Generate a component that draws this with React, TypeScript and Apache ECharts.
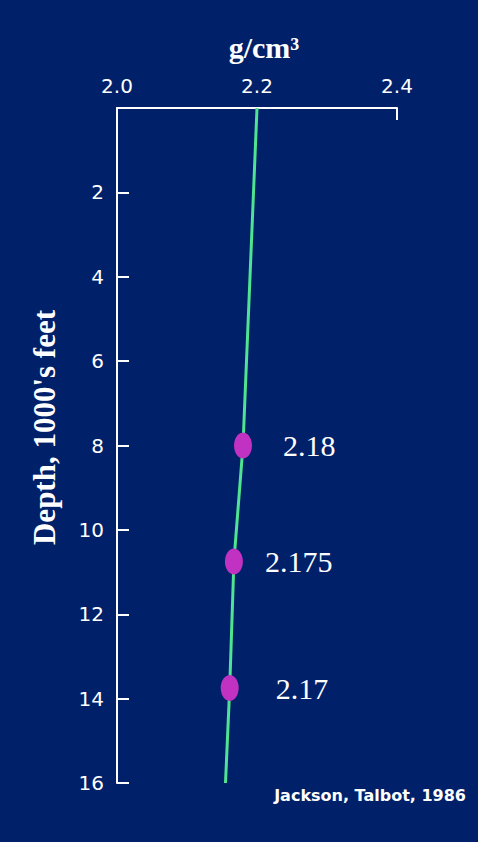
import React, { useEffect, useRef } from "react";
import * as echarts from "echarts";

const xTicks = [2.0, 2.2, 2.4];
const depthTicks = [0, 2, 4, 6, 8, 10, 12, 14, 16];
const lineDensity = [2.2, 2.18, 2.167, 2.161, 2.155];
const lineDepth = [0, 8, 10.75, 13.75, 16];
const pointDensity = [2.18, 2.167, 2.161];
const pointDepth = [8, 10.75, 13.75];
const pointLabels = ["2.18", "2.175", "2.17"];
const labelShift = [31, 22, 37];

const BG = "#00216a";

export default function App() {
  const ref = useRef<HTMLDivElement>(null);
  useEffect(() => {
    document.body.style.margin = "0";
    document.body.style.background = BG;
    const chart = echarts.init(ref.current!, null, { renderer: "svg" });
    chart.setOption({
      animation: false,
      backgroundColor: BG,
      grid: { left: 117, top: 108, right: 81, bottom: 59 },
      xAxis: {
        type: "value",
        position: "top",
        min: xTicks[0],
        max: xTicks[xTicks.length - 1],
        interval: 0.2,
        name: "g/cm³",
        nameLocation: "middle",
        nameGap: 46,
        nameTextStyle: {
          color: "#ffffff",
          fontFamily: "Liberation Serif",
          fontWeight: "bold",
          fontSize: 30,
          padding: [0, 0, 0, 14],
        },
        axisLine: { show: true, lineStyle: { color: "#ffffff", width: 2 } },
        axisTick: { show: true, inside: true, length: 12, lineStyle: { color: "#ffffff", width: 2 } },
        axisLabel: {
          color: "#ffffff",
          fontFamily: "DejaVu Sans",
          fontSize: 20,
          margin: 12,
          formatter: (v: number) => v.toFixed(1),
        },
        splitLine: { show: false },
      },
      yAxis: {
        type: "value",
        inverse: true,
        min: depthTicks[0],
        max: depthTicks[depthTicks.length - 1],
        interval: 2,
        name: "Depth, 1000's feet",
        nameLocation: "middle",
        nameRotate: 90,
        nameGap: 57,
        nameTextStyle: {
          color: "#ffffff",
          fontFamily: "Liberation Serif",
          fontWeight: "bold",
          fontSize: 31,
          padding: [0, 0, 0, 36],
        },
        axisLine: { show: true, lineStyle: { color: "#ffffff", width: 2 } },
        axisTick: { show: true, inside: true, length: 12, lineStyle: { color: "#ffffff", width: 2 } },
        axisLabel: {
          color: "#ffffff",
          fontFamily: "DejaVu Sans",
          fontSize: 20,
          margin: 13,
          formatter: (v: number) => (v === 0 ? "" : String(v)),
        },
        splitLine: { show: false },
      },
      graphic: [
        {
          type: "text",
          right: 12,
          top: 787,
          style: {
            text: "Jackson, Talbot, 1986",
            fill: "#ffffff",
            font: "bold 16px 'DejaVu Sans'",
          },
        },
      ],
      series: [
        {
          type: "line",
          data: lineDensity.map((d, i) => [d, lineDepth[i]]),
          showSymbol: false,
          lineStyle: { color: "#4fe392", width: 3 },
          z: 2,
        },
        {
          type: "scatter",
          data: pointDensity.map((d, i) => ({
            value: [d, pointDepth[i]],
            label: { offset: [labelShift[i], 0] },
          })),
          symbol: "circle",
          symbolSize: [18, 26],
          itemStyle: { color: "#c232c2", opacity: 1 },
          z: 3,
          label: {
            show: true,
            position: "right",
            distance: 0,
            color: "#ffffff",
            opacity: 1,
            fontFamily: "Liberation Serif",
            fontSize: 30,
            formatter: (p: any) => pointLabels[p.dataIndex],
          },
        },
      ],
    });
    return () => chart.dispose();
  }, []);
  return (
    <div
      ref={ref}
      style={{ position: "absolute", left: 0, top: 0, width: 478, height: 842 }}
    />
  );
}
